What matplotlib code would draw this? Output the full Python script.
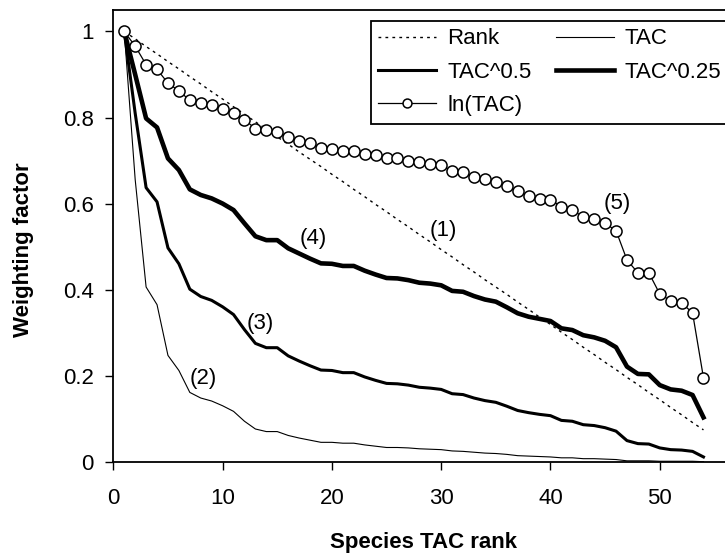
import matplotlib
matplotlib.use('Agg')
import matplotlib.pyplot as plt

plt.rcParams['font.family'] = ['Liberation Sans', 'DejaVu Sans']

# Species TAC rank (x axis)
rank_pos = list(range(1, 55))

# Weighting factors
rank_w = [1.000, 0.983, 0.965, 0.948, 0.930, 0.913, 0.895, 0.878, 0.860, 0.843,
          0.825, 0.808, 0.790, 0.773, 0.755, 0.738, 0.720, 0.703, 0.686, 0.668,
          0.651, 0.633, 0.616, 0.598, 0.581, 0.563, 0.546, 0.528, 0.511, 0.493,
          0.476, 0.458, 0.441, 0.423, 0.406, 0.389, 0.371, 0.354, 0.336, 0.319,
          0.301, 0.284, 0.266, 0.249, 0.231, 0.214, 0.196, 0.179, 0.161, 0.144,
          0.126, 0.109, 0.091, 0.074]

tac = [1.000, 0.656, 0.406, 0.365, 0.247, 0.212, 0.161, 0.148, 0.141, 0.130,
       0.117, 0.094, 0.076, 0.070, 0.070, 0.061, 0.055, 0.050, 0.045, 0.045,
       0.043, 0.043, 0.039, 0.036, 0.033, 0.033, 0.032, 0.030, 0.029, 0.028,
       0.025, 0.024, 0.022, 0.020, 0.019, 0.017, 0.014, 0.013, 0.012, 0.011,
       0.009, 0.009, 0.007, 0.007, 0.006, 0.005, 0.002, 0.002, 0.002, 0.001,
       0.001, 0.001, 0.001, 0.000]

tac_05 = [1.000, 0.810, 0.637, 0.604, 0.497, 0.460, 0.401, 0.384, 0.375, 0.360,
          0.342, 0.307, 0.275, 0.265, 0.265, 0.246, 0.234, 0.223, 0.213, 0.212,
          0.207, 0.207, 0.197, 0.189, 0.182, 0.181, 0.178, 0.173, 0.171, 0.168,
          0.158, 0.156, 0.148, 0.142, 0.138, 0.129, 0.119, 0.114, 0.110, 0.107,
          0.096, 0.094, 0.086, 0.084, 0.079, 0.071, 0.049, 0.042, 0.041, 0.032,
          0.028, 0.027, 0.024, 0.011]

tac_025 = [1.000, 0.900, 0.798, 0.777, 0.705, 0.678, 0.633, 0.620, 0.612, 0.600,
           0.585, 0.554, 0.524, 0.515, 0.515, 0.496, 0.484, 0.472, 0.461, 0.460,
           0.455, 0.455, 0.444, 0.435, 0.427, 0.426, 0.422, 0.416, 0.414, 0.410,
           0.397, 0.395, 0.385, 0.377, 0.372, 0.359, 0.345, 0.337, 0.332, 0.327,
           0.310, 0.306, 0.294, 0.289, 0.281, 0.266, 0.221, 0.204, 0.203, 0.178,
           0.168, 0.165, 0.155, 0.103]

ln_tac = [1.000, 0.966, 0.923, 0.912, 0.880, 0.862, 0.840, 0.833, 0.829, 0.821,
          0.811, 0.795, 0.774, 0.772, 0.767, 0.755, 0.746, 0.740, 0.729, 0.726,
          0.722, 0.722, 0.716, 0.712, 0.707, 0.705, 0.700, 0.697, 0.693, 0.689,
          0.676, 0.674, 0.662, 0.657, 0.650, 0.640, 0.629, 0.617, 0.610, 0.609,
          0.593, 0.586, 0.568, 0.563, 0.554, 0.537, 0.469, 0.439, 0.439, 0.390,
          0.374, 0.369, 0.346, 0.195]

# curve labels
labels = ['(1)', '(2)', '(3)', '(4)', '(5)']
label_x = [30.2, 8.2, 13.4, 18.3, 46.1]
label_y = [0.538, 0.194, 0.321, 0.519, 0.600]

fig = plt.figure(figsize=(7.25, 5.58), dpi=100)
ax = fig.add_axes([0.1563, 0.1726, 0.8517, 0.8095])

l_rank, = ax.plot(rank_pos, rank_w, color='black', lw=1.0, ls=(0, (2, 3)), label='Rank')
l_tac, = ax.plot(rank_pos, tac, color='black', lw=0.8, label='TAC')
l_05, = ax.plot(rank_pos, tac_05, color='black', lw=2.2, label='TAC^0.5')
l_025, = ax.plot(rank_pos, tac_025, color='black', lw=3.3, label='TAC^0.25')
l_ln, = ax.plot(rank_pos, ln_tac, color='black', lw=0.9, marker='o', ms=8,
                mfc='white', mec='black', mew=1.1, label='ln(TAC)', clip_on=False)

for t, x, y in zip(labels, label_x, label_y):
    ax.text(x, y, t, fontsize=16, ha='center', va='center')

ax.set_xlim(0, 56.5)
ax.set_ylim(0, 1.05)
ax.set_xticks([0, 10, 20, 30, 40, 50])
ax.set_yticks([0, 0.2, 0.4, 0.6, 0.8, 1.0])
ax.set_yticklabels(['0', '0.2', '0.4', '0.6', '0.8', '1'])
ax.tick_params(axis='both', direction='out', length=6, width=1, labelsize=16)
ax.xaxis.set_tick_params(pad=13)
ax.yaxis.set_tick_params(pad=8)
for s in ax.spines.values():
    s.set_linewidth(1.3)

ax.set_xlabel('Species TAC rank', fontsize=16, fontweight='bold')
ax.set_ylabel('Weighting factor', fontsize=16, fontweight='bold')
ax.xaxis.set_label_coords(0.503, -0.155)
ax.yaxis.set_label_coords(-0.128, 0.47)

leg = ax.legend(handles=[l_rank, l_05, l_ln, l_tac, l_025], ncol=2, fontsize=16,
                loc='upper left', bbox_to_anchor=(0.5113, 0.9629),
                bbox_transform=fig.transFigure, borderaxespad=0,
                handlelength=2.6, handletextpad=0.5, columnspacing=1.1,
                labelspacing=0.55, borderpad=0.35, fancybox=False, framealpha=1,
                edgecolor='black', markerscale=0.8)
leg.get_frame().set_linewidth(1.3)

fig.savefig('out.png', dpi=100)
